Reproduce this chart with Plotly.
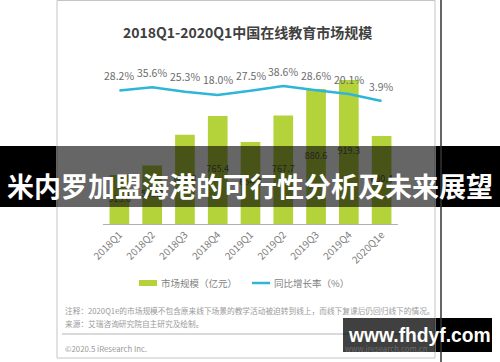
import plotly.graph_objects as go

quarters = ["2018Q1", "2018Q2", "2018Q3", "2018Q4", "2019Q1", "2019Q2", "2019Q3", "2019Q4", "2020Q1e"]
market_size = [513.6, 553.9, 684.8, 765.4, 654.8, 767.7, 880.6, 919.3, 680.4]
yoy_growth = [28.2, 35.6, 25.3, 18.0, 27.5, 38.6, 28.6, 20.1, 3.9]

title_text = "2018Q1-2020Q1中国在线教育市场规模"
legend_bar = "市场规模（亿元）"
legend_line = "同比增长率（%）"
note_text = "注释：2020Q1e的市场规模不包含原来线下场景的教学活动被迫转到线上，而线下复课后仍回归线下的情况。"
source_text = "来源：艾瑞咨询研究院自主研究及绘制。"
copyright_text = "©2020.5 iResearch Inc."
site_text = "www.iresearch.com.cn"
banner_text = "米内罗加盟海港的可行性分析及未来展望"
watermark_text = "www.fhdyf.com"

W, H = 500, 362
def px(x):
    return x / W
def py(y):
    return 1 - y / H

BAR_COLOR = "#b4d23a"
LINE_COLOR = "#2eb5d8"
CJK = "Noto Sans CJK SC, sans-serif"
Y1_RANGE = [303.7, 962.1]
Y2_RANGE = [-280.8, 75.7]

fig = go.Figure()
fig.add_bar(
    x=quarters, y=market_size, marker_color=BAR_COLOR, marker_line_width=0,
    width=0.6, showlegend=False, hoverinfo="skip",
)
# value labels placed at the middle of the visible part of each bar
fig.add_scatter(
    x=quarters, y=[(Y1_RANGE[0] + v) / 2 for v in market_size], mode="text",
    text=[f"{v:.1f}" for v in market_size], textposition="middle center",
    textfont=dict(size=9, color="#555555", family=CJK),
    showlegend=False, hoverinfo="skip", cliponaxis=False,
)
fig.add_scatter(
    x=quarters, y=yoy_growth, yaxis="y2", mode="lines",
    line=dict(color=LINE_COLOR, width=2.5), showlegend=False, hoverinfo="skip",
)

annotations = []
for q, r in zip(quarters, yoy_growth):
    annotations.append(dict(
        x=q, y=r, xref="x", yref="y2", yshift=15, text=f"{r:.1f}%",
        showarrow=False, font=dict(size=10.5, color="#6b6b6b", family=CJK),
    ))

def paper_text(x, y, text, size, color, anchor="left", family=CJK):
    annotations.append(dict(
        x=x, y=y, xref="paper", yref="paper", text=text, showarrow=False,
        xanchor=anchor, yanchor="middle", font=dict(size=size, color=color, family=family),
    ))

paper_text(px(247), py(32), f"<b>{title_text}</b>", 14, "#404040", "center")
paper_text(px(159), py(283), legend_bar, 9.5, "#7f7f7f")
paper_text(px(272), py(283), legend_line, 9.5, "#7f7f7f")
paper_text(px(63), py(310), note_text, 7.7, "#9a9a9a")
paper_text(px(63), py(323), source_text, 7.7, "#9a9a9a")
paper_text(px(63), py(348), copyright_text, 7.8, "#9a9a9a")
paper_text(px(430), py(348), site_text, 7.8, "#6a6a6a", "right")
paper_text(0.5, py(185), f"<b>{banner_text}</b>", 27, "#ffffff", "center")
paper_text(px(419), py(335), f"<b>{watermark_text}</b>", 19.3, "#ffffff", "center", "Liberation Sans, Arial, sans-serif")

shapes = [
    dict(type="rect", xref="paper", yref="paper", x0=0, x1=1, y0=py(207), y1=py(146),
         fillcolor="#000000", line_width=0, layer="below"),
    dict(type="rect", xref="paper", yref="paper", x0=px(343), x1=px(492), y0=py(352), y1=py(318),
         fillcolor="#000000", line_width=0, layer="below"),
    dict(type="line", xref="paper", yref="paper", x0=px(441), x1=px(441), y0=0, y1=1,
         line=dict(color="#333333", width=1.5), layer="below"),
    dict(type="rect", xref="paper", yref="paper", x0=px(57), x1=px(435), y0=py(358), y1=py(0.5),
         fillcolor="#ffffff", line=dict(color="#c4c4c4", width=1), layer="below"),
    dict(type="line", xref="paper", yref="paper", x0=px(62), x1=px(431), y0=py(334), y1=py(334),
         line=dict(color="#b5b5b5", width=1), layer="below"),
    dict(type="rect", xref="paper", yref="paper", x0=px(139), x1=px(157), y0=py(286), y1=py(280),
         fillcolor=BAR_COLOR, line_width=0, layer="below"),
    dict(type="line", xref="paper", yref="paper", x0=px(252), x1=px(270), y0=py(283), y1=py(283),
         line=dict(color=LINE_COLOR, width=2.5), layer="below"),
    dict(type="rect", xref="paper", yref="paper", x0=px(57), x1=px(435), y0=py(207), y1=py(146),
         fillcolor="#000000", opacity=0.6, line_width=0, layer="above"),
    dict(type="rect", xref="paper", yref="paper", x0=px(343), x1=px(435), y0=py(352), y1=py(318),
         fillcolor="#000000", opacity=0.75, line_width=0, layer="above"),
]

fig.update_layout(
    width=W, height=H,
    margin=dict(l=0, r=0, t=0, b=0),
    paper_bgcolor="#ffffff", plot_bgcolor="rgba(0,0,0,0)",
    showlegend=False,
    xaxis=dict(
        domain=[px(103), px(398)], range=[-0.5, 8.5], showline=True, linecolor="#b0b0b0",
        linewidth=1, showgrid=False, zeroline=False, ticks="", tickangle=-45,
        tickfont=dict(size=10, color="#808080", family=CJK), automargin=False, fixedrange=True,
    ),
    yaxis=dict(
        domain=[py(224), py(70)], range=Y1_RANGE, visible=False, showgrid=False,
        automargin=False, fixedrange=True,
    ),
    yaxis2=dict(
        overlaying="y", range=Y2_RANGE, visible=False, showgrid=False,
        automargin=False, fixedrange=True,
    ),
    annotations=annotations,
    shapes=shapes,
)

fig.write_html(
    "out.html",
    config={"displayModeBar": False},
    post_script="document.body.style.margin='0';document.body.style.overflow='hidden';",
)
